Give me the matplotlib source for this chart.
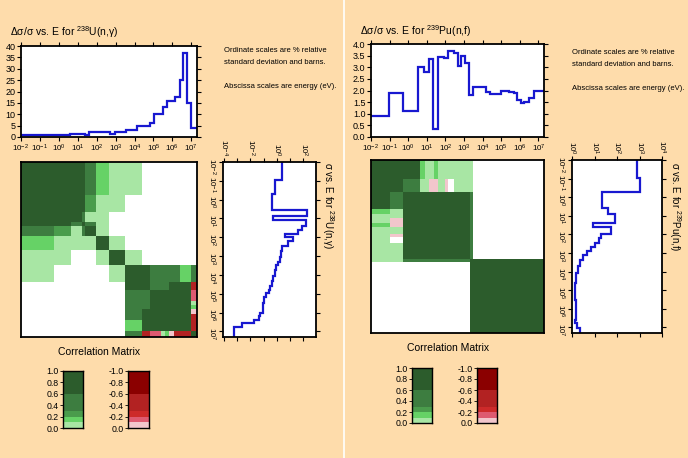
import matplotlib
matplotlib.use('Agg')
import matplotlib.pyplot as plt
import numpy as np
from matplotlib.colors import ListedColormap, BoundaryNorm
from matplotlib.lines import Line2D
from matplotlib.ticker import FixedLocator, NullLocator, MultipleLocator, FuncFormatter

plt.rcParams['font.family'] = ['Liberation Sans', 'DejaVu Sans']
plt.rcParams['mathtext.fontset'] = 'custom'
plt.rcParams['mathtext.rm'] = 'Liberation Sans'
plt.rcParams['mathtext.it'] = 'Liberation Sans:italic'
plt.rcParams['mathtext.bf'] = 'Liberation Sans:bold'

BG = '#fedcab'
LINE = '#1818d0'
W, H = 688, 458

# ---- U-238 (n,gamma) ----
# energy edges given as log10(E/eV)
u_unc_edges = [-2.0, 0.58, 1.39, 1.57, 2.72, 2.99, 3.53, 4.15, 4.83, 5.04, 5.49,
               5.70, 6.15, 6.38, 6.57, 6.79, 7.0, 7.3]
u_unc = [1.0, 1.5, 1.0, 2.0, 1.5, 2.0, 3.0, 5.0, 6.0, 10.0, 13.0, 16.0, 17.5,
         25.0, 37.0, 15.0, 4.0]

u_xs_edges = [-2.0, -1.03, -0.32, 0.57, 0.85, 1.1, 1.38, 1.6, 1.81, 1.99, 2.22,
              2.48, 2.75, 3.05, 3.3, 3.46, 3.75, 4.08, 4.3, 4.61, 4.8, 4.96, 5.2,
              5.5, 6.03, 6.2, 6.38, 6.56, 6.77, 7.3]
u_xs = [2.4, 0.75, 0.42, 178, 0.56, 158, 75, 42, 4.2, 18, 7.5,
        2.37, 2.1, 1.6, 1.33, 0.9, 0.75, 0.56, 0.42, 0.32, 0.24, 0.16, 0.11,
        0.09, 0.056, 0.042, 0.018, 0.0024, 0.00056]

u_cor_edges = [-2.0, -0.25, 0.65, 1.2, 1.4, 1.95, 2.65, 3.5, 4.4, 4.8, 5.4, 5.6,
               5.8, 6.1, 6.4, 7.0, 7.3]
u_cor = [
    [.9, .9, .9, .9, .45, .15, .05, .05, 0, 0, 0, 0, 0, 0, 0, 0],
    [.9, .9, .9, .9, .25, .05, .05, 0, 0, 0, 0, 0, 0, 0, 0, 0],
    [.9, .9, .9, .45, .05, .05, 0, 0, 0, 0, 0, 0, 0, 0, 0, 0],
    [.9, .9, .45, .9, .45, .05, 0, 0, 0, 0, 0, 0, 0, 0, 0, 0],
    [.45, .25, .05, .45, .9, .05, 0, 0, 0, 0, 0, 0, 0, 0, 0, 0],
    [.15, .05, .05, .05, .05, .9, .05, 0, 0, 0, 0, 0, 0, 0, 0, 0],
    [.05, .05, 0, 0, 0, .05, .9, .05, 0, 0, 0, 0, 0, 0, 0, 0],
    [.05, 0, 0, 0, 0, 0, .05, .9, .7, .45, .45, .45, .45, .45, .15, .45],
    [0, 0, 0, 0, 0, 0, 0, .7, .9, .45, .45, .45, .7, .7, .7, -.4],
    [0, 0, 0, 0, 0, 0, 0, .45, .45, .9, .9, .9, .9, .9, .9, -.15],
    [0, 0, 0, 0, 0, 0, 0, .45, .45, .9, .9, .9, .9, .9, .9, .05],
    [0, 0, 0, 0, 0, 0, 0, .45, .45, .9, .9, .9, .9, .9, .9, .15],
    [0, 0, 0, 0, 0, 0, 0, .45, .7, .9, .9, .9, .9, .9, .9, -.05],
    [0, 0, 0, 0, 0, 0, 0, .45, .7, .9, .9, .9, .9, .9, .9, -.4],
    [0, 0, 0, 0, 0, 0, 0, .15, .7, .9, .9, .9, .9, .9, .9, -.4],
    [0, 0, 0, 0, 0, 0, 0, .45, -.4, -.15, .05, .15, -.05, -.4, -.4, .9],
]

# ---- Pu-239 (n,f) ----
p_unc_edges = [-2.0, -1.02, -0.3, 0.54, 0.86, 1.13, 1.31, 1.61, 1.94, 2.15, 2.47,
               2.65, 2.83, 3.04, 3.28, 3.51, 4.17, 4.4, 4.98, 5.42, 5.69, 5.87,
               6.05, 6.23, 6.5, 6.77, 7.3]
p_unc = [0.9, 1.9, 1.13, 3.0, 2.8, 3.35, 0.35, 3.45, 3.4, 3.68, 3.6, 3.05, 3.5,
         3.2, 1.8, 2.15, 1.95, 1.85, 2.0, 1.95, 1.9, 1.6, 1.45, 1.5, 1.68, 2.0]

p_xs_edges = [-2.0, -1.02, -0.26, 0.59, 0.92, 1.36, 1.61, 1.97, 2.2, 2.44, 2.65,
              2.88, 3.1, 3.37, 3.72, 4.08, 4.62, 5.51, 6.59, 6.77, 7.03, 7.3]
p_xs = [813, 1096, 22.4, 41.7, 81, 8.5, 52.5, 19.5, 15.1, 10.7, 7.1, 4.6, 3.2,
        2.3, 1.8, 1.5, 1.3, 1.5, 1.4, 1.66, 2.2]

p_cor_edges = [-2.0, -1.0, -0.27, 0.62, 0.9, 1.1, 1.36, 1.58, 2.0, 2.16, 2.48,
               3.3, 3.5, 7.3]
p_cor = [
    [.9, .9, .9, .15, .05, .05, .15, .05, .05, .05, .05, .05, 0],
    [.9, .9, .45, .05, .05, -.05, -.05, .05, -.05, 0, .05, .05, 0],
    [.9, .45, .9, .9, .9, .9, .9, .9, .9, .9, .9, .45, 0],
    [.15, .05, .9, .9, .9, .9, .9, .9, .9, .9, .9, .45, 0],
    [.05, .05, .9, .9, .9, .9, .9, .9, .9, .9, .9, .45, 0],
    [.05, -.05, .9, .9, .9, .9, .9, .9, .9, .9, .9, .45, 0],
    [.15, -.05, .9, .9, .9, .9, .9, .9, .9, .9, .9, .45, 0],
    [.05, .05, .9, .9, .9, .9, .9, .9, .9, .9, .9, .45, 0],
    [.05, -.05, .9, .9, .9, .9, .9, .9, .9, .9, .9, .45, 0],
    [.05, 0, .9, .9, .9, .9, .9, .9, .9, .9, .9, .45, 0],
    [.05, .05, .9, .9, .9, .9, .9, .9, .9, .9, .9, .45, 0],
    [.05, .05, .45, .45, .45, .45, .45, .45, .45, .45, .45, .9, .9],
    [0, 0, 0, 0, 0, 0, 0, 0, 0, 0, 0, .9, .9],
]

cor_bins = [-1.0, -0.6, -0.3, -0.2, -0.1, 0.0, 0.1, 0.2, 0.3, 0.6, 1.0]
cor_colors = ['#8b0000', '#b22222', '#cd2a2a', '#de5a70', '#f2c6cc',
              '#a8e6a4', '#66d266', '#4a9c4c', '#3d7d40', '#2c5c2c']
cmap = ListedColormap(cor_colors)
norm = BoundaryNorm(cor_bins, cmap.N)

energy_decades = np.arange(-2, 8)


def box(l, t, r, b):
    return [l / W, 1 - b / H, (r - l) / W, (b - t) / H]


def frame(ax):
    for s in ax.spines.values():
        s.set_linewidth(1.3)
        s.set_color('black')


def pow_fmt(v, p):
    return r'$10^{%d}$' % round(np.log10(v))


def top_panel(rect, edges, vals, ymax, ystep, fmt):
    ax = fig.add_axes(box(*rect))
    ax.stairs(vals, 10 ** np.array(edges), baseline=None, color=LINE, lw=1.6)
    ax.set_xscale('log')
    ax.set_xlim(1e-2, 10 ** 7.3)
    ax.set_ylim(0, ymax)
    ax.xaxis.set_major_locator(FixedLocator(10.0 ** energy_decades))
    ax.xaxis.set_minor_locator(NullLocator())
    ax.xaxis.set_major_formatter(FuncFormatter(pow_fmt))
    ax.yaxis.set_major_locator(MultipleLocator(ystep))
    ax.yaxis.set_major_formatter(FuncFormatter(lambda v, p: fmt % v))
    ax.tick_params(direction='out', top=True, right=True, length=3, width=0.8,
                   labelsize=6.5, pad=1)
    ax.tick_params(axis='x', labelsize=5.8)
    frame(ax)
    return ax


def side_panel(rect, edges, vals, xlo, xhi, every):
    ax = fig.add_axes(box(*rect))
    ax.stairs(vals, 10 ** np.array(edges), orientation='horizontal',
              baseline=None, color=LINE, lw=1.6)
    ax.set_xscale('log')
    ax.set_yscale('log')
    ax.set_xlim(10 ** xlo, 10 ** xhi)
    ax.set_ylim(10 ** 7.3, 1e-2)
    xdec = np.arange(np.ceil(xlo), np.floor(xhi) + 1)
    ax.xaxis.set_major_locator(FixedLocator(10.0 ** xdec))
    ax.xaxis.set_minor_locator(NullLocator())
    ax.yaxis.set_major_locator(FixedLocator(10.0 ** energy_decades))
    ax.yaxis.set_minor_locator(NullLocator())
    ax.xaxis.set_major_formatter(FuncFormatter(
        lambda v, p: pow_fmt(v, p) if round(np.log10(v)) % every == 0 else ''))
    ax.yaxis.set_major_formatter(FuncFormatter(pow_fmt))
    ax.xaxis.tick_top()
    ax.tick_params(direction='out', top=True, bottom=True, left=True, right=True,
                   length=3, width=0.8, labelsize=5.8, pad=1)
    ax.tick_params(axis='x', labelrotation=-90)
    ax.tick_params(axis='y', labelrotation=-90)
    frame(ax)
    return ax


def matrix_panel(rect, edges, cor):
    ax = fig.add_axes(box(*rect))
    e = 10 ** np.array(edges)
    ax.pcolormesh(e, e, np.ma.masked_equal(np.array(cor), 0), cmap=cmap, norm=norm)
    ax.set_xscale('log')
    ax.set_yscale('log')
    ax.set_xlim(1e-2, 10 ** 7.3)
    ax.set_ylim(10 ** 7.3, 1e-2)
    ax.set_facecolor('white')
    ax.xaxis.set_major_locator(NullLocator())
    ax.xaxis.set_minor_locator(NullLocator())
    ax.yaxis.set_major_locator(NullLocator())
    ax.yaxis.set_minor_locator(NullLocator())
    frame(ax)
    return ax


def color_bar(rect, lo, hi):
    ax = fig.add_axes(box(*rect))
    b = np.array([v for v in cor_bins if lo <= v <= hi])
    mids = (b[:-1] + b[1:]) / 2
    ax.pcolormesh([0, 1], b, mids.reshape(-1, 1), cmap=cmap, norm=norm)
    ax.set_xticks([])
    if lo < 0:
        ax.set_ylim(0, -1)
    else:
        ax.set_ylim(0, 1)
    ax.set_yticks(np.linspace(lo, hi, 6))
    ax.yaxis.set_major_formatter(FuncFormatter(lambda v, p: '%.1f' % v))
    ax.tick_params(axis='y', length=2, width=0.6, labelsize=6.3, pad=1)
    for s in ax.spines.values():
        s.set_linewidth(1.0)
    return ax


fig = plt.figure(figsize=(W / 100, H / 100), dpi=100)
fig.patch.set_facecolor(BG)

notes = ['Ordinate scales are % relative', 'standard deviation and barns.',
         'Abscissa scales are energy (eV).']

# left half: U-238
top_panel((21, 46, 197, 137), u_unc_edges, u_unc, 40, 5, '%d')
fig.text(10 / W, 1 - 32 / H, r'Δσ/σ vs. E for $^{238}$U(n,γ)', fontsize=7.5, va='center')
matrix_panel((21, 162, 197, 337), u_cor_edges, u_cor)
side_panel((223, 162, 316, 337), u_xs_edges, u_xs, -4.05, 2.95, 2)
fig.text(328 / W, 1 - 162 / H, r'σ vs. E for $^{238}$U(n,γ)', fontsize=7,
         rotation=-90, ha='center', va='top')
fig.text(99 / W, 1 - 352 / H, 'Correlation Matrix', fontsize=7.5, ha='center', va='center')
color_bar((63, 371, 83, 428), 0.0, 1.0)
color_bar((128, 371, 149, 428), -1.0, 0.0)
for y, t in zip([51, 63, 87], notes):
    fig.text(224 / W, 1 - y / H, t, fontsize=5.5, va='center')

# right half: Pu-239
top_panel((371, 44, 544, 137), p_unc_edges, p_unc, 4.0, 0.5, '%.1f')
fig.text(360 / W, 1 - 31 / H, r'Δσ/σ vs. E for $^{239}$Pu(n,f)', fontsize=7.5, va='center')
matrix_panel((371, 160, 544, 333), p_cor_edges, p_cor)
side_panel((572, 160, 662, 333), p_xs_edges, p_xs, 0, 4, 1)
fig.text(675 / W, 1 - 162 / H, r'σ vs. E for $^{239}$Pu(n,f)', fontsize=7,
         rotation=-90, ha='center', va='top')
fig.text(448 / W, 1 - 348 / H, 'Correlation Matrix', fontsize=7.5, ha='center', va='center')
color_bar((412, 368, 432, 423), 0.0, 1.0)
color_bar((477, 368, 497, 423), -1.0, 0.0)
for y, t in zip([52, 64, 88], notes):
    fig.text(572 / W, 1 - y / H, t, fontsize=5.5, va='center')

fig.add_artist(Line2D([344 / W, 344 / W], [0, 1], color='white', lw=1.2))

fig.savefig('out.png', dpi=100, facecolor=BG)
